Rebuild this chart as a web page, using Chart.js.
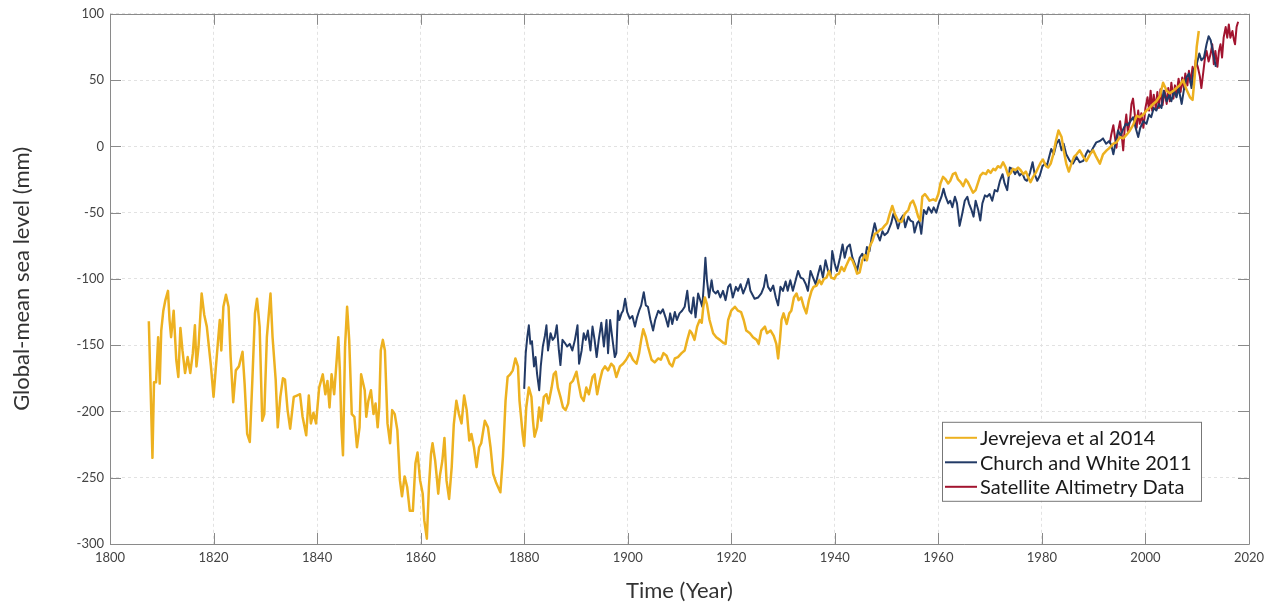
<!DOCTYPE html>
<html><head><meta charset="utf-8">
<script src="https://cdn.jsdelivr.net/npm/chart.js@4/dist/chart.umd.min.js"></script>
<style>html,body{margin:0;padding:0;background:#fff}#wrap{width:1276px;height:606px}</style>
</head><body><div id="wrap"><canvas id="c" width="1276" height="606"></canvas></div>
<script>
const xTicks = [1800,1820,1840,1860,1880,1900,1920,1940,1960,1980,2000,2020];
const yTicks = [-300,-250,-200,-150,-100,-50,0,50,100];
const seriesNames = ["Jevrejeva et al 2014","Church and White 2011","Satellite Altimetry Data"];

const jevYears = [1807.5,1808.2,1808.5,1808.9,1809.3,1809.6,1809.9,1810.3,1810.7,1811.2,1811.5,1811.8,1812.3,1812.8,1813.2,1813.6,1814.0,1814.5,1815.0,1815.5,1816.0,1816.4,1816.7,1817.1,1817.7,1818.2,1818.7,1819.5,1820.0,1820.4,1821.2,1821.5,1821.9,1822.4,1822.9,1823.3,1823.8,1824.3,1824.9,1825.6,1826.0,1826.5,1827.0,1827.5,1828.0,1828.4,1828.9,1829.4,1829.8,1830.3,1831.0,1831.4,1832.0,1832.4,1832.9,1833.4,1833.8,1834.3,1834.8,1835.5,1836.1,1836.7,1837.2,1837.9,1838.4,1838.8,1839.3,1839.8,1840.4,1841.1,1841.6,1842.0,1842.4,1842.8,1843.3,1844.1,1844.4,1844.7,1845.0,1845.4,1845.8,1846.2,1846.7,1847.2,1847.7,1848.2,1848.5,1849.2,1849.5,1849.9,1850.4,1850.9,1851.3,1851.7,1852.0,1852.3,1852.7,1853.1,1853.6,1854.1,1854.5,1855.0,1855.5,1856.0,1856.4,1856.9,1857.4,1857.9,1858.5,1859.0,1859.4,1859.9,1860.4,1860.7,1861.2,1861.6,1862.0,1862.3,1862.8,1863.1,1863.4,1863.7,1864.2,1864.6,1865.0,1865.5,1866.0,1866.4,1866.9,1867.4,1867.9,1868.4,1868.9,1869.4,1869.8,1870.3,1870.8,1871.3,1871.7,1872.4,1873.0,1873.5,1874.0,1874.6,1875.4,1875.9,1876.4,1876.8,1877.3,1877.8,1878.3,1878.8,1879.1,1879.7,1880.0,1880.4,1880.9,1881.4,1881.7,1882.0,1882.5,1882.9,1883.3,1883.8,1884.3,1884.7,1885.3,1885.7,1886.1,1886.5,1887.0,1887.5,1888.0,1888.5,1888.9,1889.4,1890.1,1890.5,1891.0,1891.5,1892.0,1892.5,1893.2,1893.6,1894.1,1894.6,1895.1,1895.6,1896.2,1896.8,1897.3,1897.8,1898.5,1899.1,1899.7,1900.4,1901.0,1901.7,1902.2,1902.6,1903.0,1903.5,1903.9,1904.6,1905.2,1905.9,1906.4,1906.9,1907.5,1908.1,1908.6,1909.1,1909.7,1910.4,1911.0,1911.5,1912.0,1912.4,1912.9,1913.4,1913.9,1914.3,1914.6,1914.9,1915.3,1915.8,1916.5,1917.1,1917.8,1918.4,1918.9,1919.4,1920.0,1920.7,1921.3,1921.9,1922.4,1922.9,1923.6,1924.2,1924.9,1925.3,1925.8,1926.5,1926.9,1927.6,1928.2,1928.7,1929.05,1929.4,1929.7,1930.1,1930.7,1931.2,1931.6,1932.1,1932.6,1933.0,1933.5,1934.0,1934.5,1935.0,1935.5,1935.9,1936.5,1937.0,1937.4,1937.9,1938.4,1938.9,1939.3,1939.9,1940.3,1940.8,1941.3,1941.8,1942.2,1942.9,1943.4,1943.9,1944.3,1944.8,1945.3,1945.8,1946.2,1946.7,1947.3,1947.7,1948.2,1948.7,1949.2,1949.6,1950.1,1950.6,1951.1,1951.6,1952.2,1952.9,1953.5,1954.2,1954.6,1955.1,1955.6,1956.1,1956.5,1956.9,1957.4,1957.8,1958.3,1959.0,1959.5,1960.0,1960.4,1960.9,1961.4,1961.9,1962.3,1962.8,1963.3,1963.8,1964.3,1964.8,1965.3,1965.7,1966.2,1966.7,1967.2,1967.7,1968.1,1968.6,1969.2,1969.6,1970.1,1970.6,1971.0,1971.5,1972.0,1972.5,1973.0,1973.5,1974.0,1974.4,1974.9,1975.4,1975.9,1976.4,1976.9,1977.3,1977.8,1978.3,1978.8,1979.3,1979.8,1980.2,1980.8,1981.2,1981.7,1982.2,1982.7,1983.2,1983.8,1984.2,1984.7,1985.2,1985.7,1986.2,1986.7,1987.3,1988.0,1988.6,1989.3,1989.9,1990.5,1991.2,1991.8,1992.5,1993.1,1993.8,1994.4,1995.1,1995.7,1996.4,1997.0,1997.6,1998.3,1998.9,1999.6,2000.2,2000.8,2001.5,2002.1,2002.8,2003.4,2004.1,2004.7,2005.4,2006.0,2006.6,2007.3,2007.9,2008.6,2009.1,2009.5,2009.9,2010.3];
const jevValues = [-132,-235,-178,-178,-144,-179,-139,-124,-116,-109,-131,-144,-124,-161,-174,-137,-154,-171,-159,-171,-156,-135,-166,-151,-111,-127,-136,-166,-189,-169,-131,-154,-121,-112,-121,-159,-193,-169,-166,-155,-179,-217,-223,-176,-126,-115,-136,-207,-202,-144,-111,-144,-176,-212,-189,-175,-176,-199,-213,-189,-188,-187,-204,-218,-188,-209,-201,-209,-182,-172,-187,-177,-197,-172,-187,-144,-169,-212,-233,-151,-121,-146,-202,-204,-227,-212,-172,-184,-204,-192,-184,-202,-194,-212,-197,-154,-146,-154,-209,-224,-199,-202,-214,-252,-264,-249,-257,-275,-275,-239,-231,-252,-262,-282,-296,-257,-232,-224,-237,-249,-262,-249,-237,-220,-252,-266,-242,-210,-192,-202,-209,-188,-199,-222,-217,-227,-242,-227,-224,-207,-212,-227,-247,-254,-261,-234,-192,-174,-172,-169,-160,-166,-192,-217,-226,-197,-182,-189,-207,-219,-212,-197,-207,-189,-187,-194,-182,-172,-170,-182,-189,-197,-199,-194,-179,-177,-170,-179,-189,-192,-182,-187,-174,-172,-187,-177,-169,-166,-169,-164,-166,-174,-166,-164,-161,-156,-161,-164,-156,-146,-138,-144,-151,-161,-163,-160,-161,-156,-158,-164,-166,-160,-159,-156,-154,-146,-139,-141,-146,-136,-131,-133,-121,-114,-119,-131,-141,-144,-146,-148,-149,-131,-124,-121,-124,-125,-131,-139,-141,-144,-146,-149,-139,-136,-141,-139,-143,-149,-160,-146,-131,-126,-134,-126,-124,-114,-111,-116,-114,-121,-126,-116,-109,-106,-105,-101,-104,-100,-99,-94,-99,-100,-97,-96,-91,-94,-90,-84,-86,-91,-96,-95,-86,-82,-86,-76,-71,-66,-65,-63,-62,-60,-58,-51,-45,-51,-56,-57,-51,-48,-43,-41,-46,-53,-56,-38,-36,-38,-41,-40,-41,-36,-28,-23,-25,-28,-26,-21,-20,-25,-27,-30,-25,-27,-31,-35,-33,-27,-22,-20,-21,-18,-20,-17,-18,-15,-16,-12,-16,-22,-20,-17,-18,-16,-18,-21,-19,-23,-27,-23,-20,-16,-12,-10,-15,-16,-13,-6,4,12,7,-3,-13,-19,-13,-8,-6,-3,-8,-11,-6,-3,-8,-13,-6,-3,-1,2,3,7,6,9,12,16,23,22,24,27,29,32,34,38,48,42,40,42,44,46,50,43,37,35,52,75,87];

const cwYears = [1880.0,1880.3,1880.6,1880.9,1881.2,1881.5,1881.9,1882.2,1882.5,1882.9,1883.2,1883.6,1884.0,1884.3,1884.6,1885.1,1885.5,1885.9,1886.3,1886.7,1887.0,1887.4,1887.8,1888.3,1888.8,1889.3,1889.8,1890.3,1890.6,1891.1,1891.5,1891.9,1892.3,1892.8,1893.2,1893.6,1894.0,1894.4,1894.9,1895.4,1895.9,1896.2,1896.6,1897.0,1897.5,1897.8,1898.1,1898.4,1898.8,1899.1,1899.5,1899.9,1900.4,1900.9,1901.4,1901.8,1902.2,1902.6,1903.1,1903.5,1903.9,1904.4,1904.9,1905.3,1905.9,1906.3,1906.8,1907.3,1907.8,1908.2,1908.6,1909.1,1909.5,1910.0,1910.5,1911.0,1911.5,1911.9,1912.3,1912.7,1913.1,1913.6,1914.0,1914.4,1914.7,1915.0,1915.3,1915.7,1916.2,1916.5,1917.0,1917.4,1917.9,1918.4,1918.9,1919.4,1919.8,1920.3,1920.9,1921.3,1921.8,1922.3,1922.8,1923.3,1923.7,1924.1,1924.5,1925.2,1925.8,1926.3,1926.7,1927.1,1927.6,1928.1,1928.6,1929.05,1929.5,1930.0,1930.5,1930.9,1931.4,1931.9,1932.5,1932.9,1933.4,1933.9,1934.4,1934.8,1935.3,1935.8,1936.3,1936.8,1937.2,1937.7,1938.2,1938.7,1939.2,1939.5,1940.0,1940.4,1941.0,1941.5,1941.9,1942.4,1942.9,1943.4,1943.9,1944.3,1944.8,1945.3,1945.8,1946.2,1946.7,1947.1,1947.7,1948.2,1948.7,1949.2,1949.6,1950.2,1950.9,1951.3,1951.8,1952.2,1952.7,1953.2,1953.6,1954.2,1954.6,1955.1,1955.4,1955.9,1956.3,1956.7,1957.2,1957.7,1958.1,1958.7,1959.1,1959.6,1960.1,1960.6,1961.0,1961.4,1961.9,1962.3,1962.7,1963.2,1963.6,1964.1,1964.6,1965.1,1965.6,1965.9,1966.4,1966.8,1967.2,1967.7,1968.1,1968.5,1969.0,1969.4,1969.9,1970.4,1970.9,1971.4,1971.9,1972.4,1972.8,1973.3,1973.8,1974.3,1974.8,1975.2,1975.7,1976.2,1976.7,1977.1,1977.7,1978.2,1978.6,1979.1,1979.6,1980.1,1980.6,1981.0,1981.4,1981.8,1982.3,1982.8,1983.3,1983.8,1984.2,1984.7,1985.4,1986.0,1986.7,1987.3,1988.0,1988.5,1988.9,1989.4,1989.9,1990.5,1991.2,1991.8,1992.4,1993.0,1993.4,1993.8,1994.3,1994.7,1995.2,1995.7,1996.2,1996.6,1997.1,1997.6,1998.1,1998.6,1999.0,1999.6,2000.2,2000.7,2001.1,2001.6,2002.1,2002.6,2003.1,2003.5,2004.1,2004.6,2005.0,2005.5,2006.0,2006.4,2007.0,2007.4,2007.9,2008.4,2008.9,2009.3,2009.9,2010.4,2010.8,2011.3,2011.8,2012.2,2012.6,2013.1,2013.6];
const cwValues = [-183,-156,-144,-135,-149,-147,-166,-159,-172,-184,-166,-151,-143,-135,-154,-141,-146,-144,-135,-154,-165,-146,-148,-151,-149,-154,-146,-135,-164,-154,-141,-146,-139,-154,-136,-146,-159,-146,-133,-151,-131,-156,-131,-144,-159,-156,-124,-131,-126,-124,-115,-125,-130,-128,-136,-129,-124,-120,-110,-120,-121,-131,-139,-131,-124,-126,-123,-129,-136,-126,-134,-125,-131,-126,-124,-121,-109,-124,-126,-114,-129,-111,-116,-121,-104,-84,-101,-114,-101,-109,-111,-109,-114,-109,-116,-106,-104,-114,-106,-109,-104,-111,-106,-100,-109,-112,-115,-114,-111,-106,-97,-106,-109,-105,-114,-120,-106,-109,-102,-109,-101,-109,-100,-94,-99,-100,-104,-109,-94,-99,-104,-96,-90,-99,-86,-94,-97,-79,-89,-94,-84,-74,-84,-76,-74,-84,-89,-94,-84,-81,-86,-76,-79,-69,-58,-66,-71,-64,-67,-65,-58,-51,-56,-62,-55,-52,-61,-53,-56,-57,-65,-58,-56,-66,-48,-51,-46,-50,-46,-50,-43,-38,-32,-38,-43,-41,-46,-38,-43,-60,-51,-41,-38,-43,-48,-53,-41,-48,-56,-43,-37,-38,-36,-41,-33,-34,-26,-21,-28,-33,-16,-17,-21,-18,-22,-20,-25,-26,-20,-12,-21,-26,-22,-15,-13,-14,-8,-2,-6,2,5,-3,2,-6,-11,-13,-8,-12,-11,-6,-3,-5,-1,3,4,6,2,4,1,-6,4,12,8,13,17,16,19,22,14,7,14,19,17,24,22,29,27,32,29,42,34,39,34,42,37,44,32,42,52,55,44,57,62,70,65,67,77,83,80,70,60];

const satYears = [1993.1,1993.4,1993.8,1994.1,1994.4,1994.7,1995.1,1995.4,1995.7,1996.0,1996.3,1996.6,1997.0,1997.3,1997.6,1998.0,1998.3,1998.6,1998.9,1999.2,1999.6,2000.0,2000.4,2000.7,2001.0,2001.3,2001.6,2002.0,2002.3,2002.6,2002.9,2003.3,2003.7,2004.1,2004.4,2004.7,2005.0,2005.4,2005.7,2006.0,2006.4,2006.8,2007.1,2007.4,2007.7,2008.1,2008.4,2008.7,2009.1,2009.4,2009.7,2010.1,2010.5,2010.8,2011.2,2011.5,2011.8,2012.2,2012.6,2012.9,2013.2,2013.5,2013.9,2014.2,2014.5,2014.8,2015.1,2015.5,2015.8,2016.1,2016.4,2016.8,2017.1,2017.3,2017.6,2017.9];
const satValues = [2,9,16,7,-1,11,19,9,-3,14,24,11,19,32,36,22,14,27,17,25,14,29,37,27,42,27,39,29,41,29,43,31,42,32,44,34,48,36,46,39,51,41,52,44,55,46,57,48,60,54,65,60,53,44,57,67,72,64,70,77,62,72,60,72,77,67,82,90,82,92,82,87,80,77,90,94];

function pts(xs, ys){ return xs.map((x,i)=>({x:x, y:ys[i]})); }

const FONT = "Lato, 'Noto Sans', sans-serif";

const framePlugin = {
  id: 'frame',
  afterDraw(chart){
    const {ctx, chartArea:a, scales:{x, y}} = chart;
    ctx.save();
    ctx.strokeStyle = '#8a8a8a';
    ctx.lineWidth = 1;
    ctx.beginPath();
    ctx.rect(Math.round(a.left)+0.5, Math.round(a.top)+0.5, Math.round(a.right-a.left), Math.round(a.bottom-a.top));
    ctx.stroke();
    const tl = 11;
    ctx.beginPath();
    xTicks.forEach(v=>{
      const px = Math.round(x.getPixelForValue(v))+0.5;
      ctx.moveTo(px, a.bottom); ctx.lineTo(px, a.bottom - tl);
      ctx.moveTo(px, a.top); ctx.lineTo(px, a.top + tl);
    });
    yTicks.forEach(v=>{
      const py = Math.round(y.getPixelForValue(v))+0.5;
      ctx.moveTo(a.left, py); ctx.lineTo(a.left + tl, py);
      ctx.moveTo(a.right, py); ctx.lineTo(a.right - tl, py);
    });
    ctx.stroke();
    // legend box
    const lx = a.right - 307, ly = a.top + 408, lw = 259, lh = 79;
    ctx.fillStyle = '#fff';
    ctx.fillRect(lx, ly, lw, lh);
    ctx.strokeStyle = '#777';
    ctx.strokeRect(lx+0.5, ly+0.5, lw, lh);
    const rows = chart.data.datasets;
    ctx.font = "20px " + FONT;
    ctx.textBaseline = 'middle';
    rows.forEach((ds,i)=>{
      const cy = ly + 16 + i*24.5;
      ctx.strokeStyle = ds.borderColor;
      ctx.lineWidth = 2;
      ctx.beginPath(); ctx.moveTo(lx+3, cy); ctx.lineTo(lx+35, cy); ctx.stroke();
      ctx.fillStyle = '#1a1a1a';
      ctx.fillText(ds.label, lx+38, cy+1);
    });
    ctx.restore();
  }
};

new Chart(document.getElementById('c'), {
  type: 'line',
  data: {
    datasets: [
      {label: seriesNames[0], data: pts(jevYears, jevValues), borderColor: '#EDB120', borderWidth: 2.5},
      {label: seriesNames[1], data: pts(cwYears, cwValues), borderColor: '#223a66', borderWidth: 2},
      {label: seriesNames[2], data: pts(satYears, satValues), borderColor: '#A2142F', borderWidth: 2}
    ]
  },
  options: {
    responsive: false,
    animation: false,
    elements: {point: {radius: 0}, line: {tension: 0, borderJoinStyle: 'round'}},
    layout: {padding: {top: 13, right: 27, left: 0, bottom: 0}},
    plugins: {legend: {display: false}, tooltip: {enabled: false}},
    scales: {
      x: {
        type: 'linear', min: 1800, max: 2020,
        afterBuildTicks(s){ s.ticks = xTicks.map(v=>({value:v})); },
        afterFit(s){ s.height = 62; },
        ticks: {color: '#444', font: {family: FONT, size: 13}, padding: 6, maxRotation: 0, callback: v => String(v)},
        grid: {color: '#e2e2e2', drawTicks: false},
        border: {display: false, dash: [3,3]},
        title: {display: true, text: 'Time (Year)', color: '#333', font: {family: FONT, size: 22}, padding: {top: 0, bottom: 2}}
      },
      y: {
        type: 'linear', min: -300, max: 100,
        afterBuildTicks(s){ s.ticks = yTicks.map(v=>({value:v})); },
        afterFit(s){ s.width = 110; },
        ticks: {color: '#444', font: {family: FONT, size: 13}, padding: 6, callback: v => String(v)},
        grid: {color: '#e2e2e2', drawTicks: false},
        border: {display: false, dash: [3,3]},
        title: {display: true, text: 'Global-mean sea level (mm)', color: '#333', font: {family: FONT, size: 22}, padding: {top: 9, bottom: 0}}
      }
    }
  },
  plugins: [framePlugin]
});
</script>
</body></html>
